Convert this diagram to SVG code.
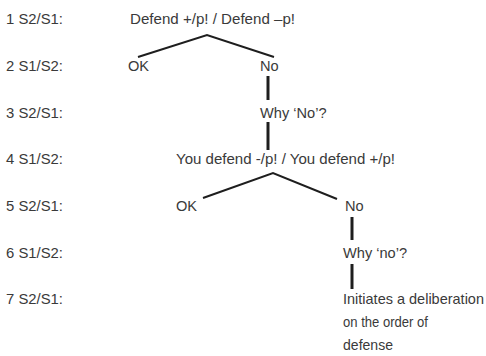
<svg xmlns="http://www.w3.org/2000/svg" width="486" height="356" viewBox="0 0 486 356">
<style>
text{font-family:"Liberation Sans",Arial,sans-serif;font-size:14.6px;fill:#3a3a3a}
.br{fill:none;stroke:#1e1e1e;stroke-width:2}
.vl{fill:none;stroke:#1e1e1e;stroke-width:3}
</style>
<rect width="486" height="356" fill="#fff"/>
<g id="labels">
<text x="6" y="24" textLength="57" lengthAdjust="spacingAndGlyphs">1 S2/S1:</text>
<text x="6" y="71" textLength="57" lengthAdjust="spacingAndGlyphs">2 S1/S2:</text>
<text x="6" y="118" textLength="57" lengthAdjust="spacingAndGlyphs">3 S2/S1:</text>
<text x="6" y="164" textLength="57" lengthAdjust="spacingAndGlyphs">4 S1/S2:</text>
<text x="6" y="211" textLength="57" lengthAdjust="spacingAndGlyphs">5 S2/S1:</text>
<text x="6" y="258" textLength="57" lengthAdjust="spacingAndGlyphs">6 S1/S2:</text>
<text x="6" y="304" textLength="57" lengthAdjust="spacingAndGlyphs">7 S2/S1:</text>
</g>
<g id="connectors">
<polyline class="br" points="138,57 207,35 274,57"/>
<line class="vl" x1="268" y1="76" x2="268" y2="100"/>
<line class="vl" x1="268" y1="122" x2="268" y2="150"/>
<polyline class="br" points="203,198 273,173 337,199"/>
<line class="vl" x1="352" y1="217" x2="352" y2="240"/>
<line class="vl" x1="352" y1="264" x2="352" y2="289"/>
</g>
<g id="n1"><text x="130" y="24" textLength="165" lengthAdjust="spacingAndGlyphs">Defend +/p! / Defend –p!</text></g>
<g id="n2"><text x="128" y="71">OK</text></g>
<g id="n3"><text x="260" y="71">No</text></g>
<g id="n4"><text x="260" y="118">Why ‘No’?</text></g>
<g id="n5"><text x="176" y="164" textLength="219" lengthAdjust="spacingAndGlyphs">You defend -/p! / You defend +/p!</text></g>
<g id="n6"><text x="176" y="211">OK</text></g>
<g id="n7"><text x="345" y="211">No</text></g>
<g id="n8"><text x="343" y="258">Why ‘no’?</text></g>
<g id="n9"><text x="343" y="304" textLength="141" lengthAdjust="spacingAndGlyphs">Initiates a deliberation</text><text x="343" y="327" textLength="85" lengthAdjust="spacingAndGlyphs">on the order of</text><text x="343" y="350" textLength="50" lengthAdjust="spacingAndGlyphs">defense</text></g>
</svg>
